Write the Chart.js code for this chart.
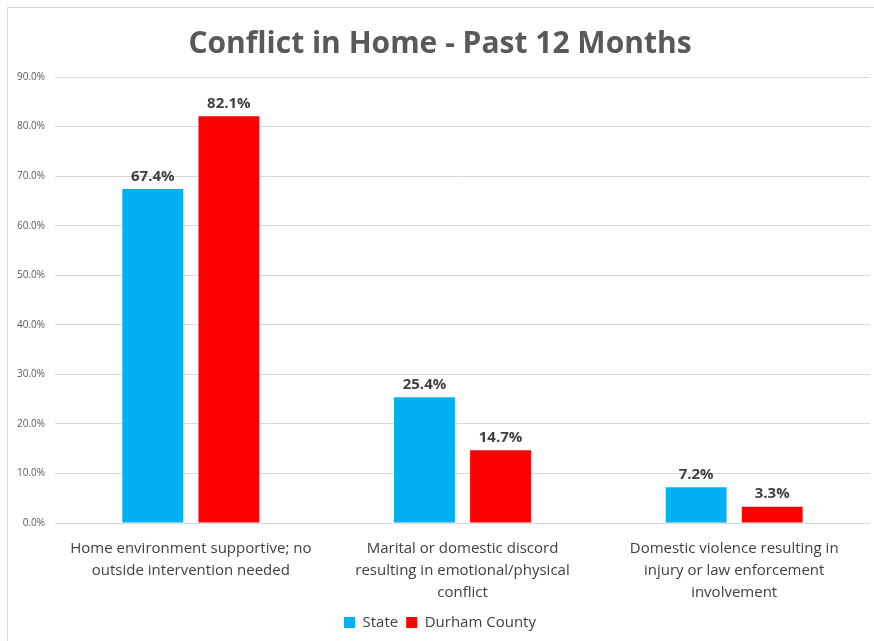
<!DOCTYPE html>
<html>
<head>
<meta charset="utf-8">
<script src="https://cdn.jsdelivr.net/npm/chart.js@4.4.1/dist/chart.umd.min.js"></script>
<style>
  html, body { margin: 0; padding: 0; background: #fff; }
  #wrap { position: relative; width: 874px; height: 641px; }
  #frame { position: absolute; left: 7px; top: 7px; width: 880px; height: 660px; border: 1px solid #d9d9d9; box-sizing: border-box; }
  canvas { position: absolute; left: 0; top: 0; }
</style>
</head>
<body>
<div id="wrap">
  <div id="frame"></div>
  <canvas id="chart" width="874" height="641"></canvas>
</div>
<script>
const categories = [
    ['Home environment supportive; no', 'outside intervention needed'],
    ['Marital or domestic discord', 'resulting in emotional/physical', 'conflict'],
    ['Domestic violence resulting in', 'injury or law enforcement', 'involvement']
];
const stateValues = [67.4, 25.4, 7.2];
const durhamValues = [82.1, 14.7, 3.3];
const seriesNames = ['State', 'Durham County'];
const yTicks = [0, 10, 20, 30, 40, 50, 60, 70, 80, 90];

const FONT = "'Open Sans', sans-serif";

// draws the value above every bar
const valueLabels = {
    id: 'valueLabels',
    afterDatasetsDraw(chart) {
        const ctx = chart.ctx;
        ctx.save();
        ctx.font = 'bold 15px ' + FONT;
        ctx.fillStyle = '#404040';
        ctx.textAlign = 'center';
        ctx.textBaseline = 'bottom';
        chart.data.datasets.forEach(function (ds, i) {
            chart.getDatasetMeta(i).data.forEach(function (bar, j) {
                ctx.fillText(ds.data[j].toFixed(1) + '%', bar.x, bar.y - 5);
            });
        });
        ctx.restore();
    }
};

new Chart(document.getElementById('chart'), {
    type: 'bar',
    data: {
        labels: categories,
        datasets: [{
            label: seriesNames[0],
            data: stateValues,
            backgroundColor: '#00B0F0'
        }, {
            label: seriesNames[1],
            data: durhamValues,
            backgroundColor: '#FF0000'
        }]
    },
    options: {
        responsive: false,
        animation: false,
        devicePixelRatio: 1,
        layout: { padding: { left: 10, right: 4, top: 26, bottom: 1 } },
        datasets: { bar: { categoryPercentage: 0.56, barPercentage: 0.8 } },
        plugins: {
            title: {
                display: true,
                text: 'Conflict in Home - Past 12 Months',
                color: '#595959',
                font: { family: FONT, size: 30, weight: 'bold' },
                padding: { top: 0, bottom: 15 }
            },
            legend: {
                position: 'bottom',
                labels: {
                    color: '#404040',
                    font: { family: FONT, size: 15 },
                    boxWidth: 11,
                    boxHeight: 11,
                    padding: 8
                }
            },
            tooltip: { enabled: false }
        },
        scales: {
            x: {
                grid: { display: false },
                border: { display: false },
                afterFit: function (scale) { scale.height = 84; },
                ticks: {
                    color: '#404040',
                    font: { family: FONT, size: 15, lineHeight: 1.45 },
                    maxRotation: 0,
                    autoSkip: false,
                    padding: 7
                }
            },
            y: {
                min: 0,
                max: 90,
                afterBuildTicks: function (scale) {
                    scale.ticks = yTicks.map(v => ({ value: v }));
                },
                afterFit: function (scale) { scale.width = 45; },
                grid: { color: '#d9d9d9', drawTicks: false },
                border: { display: false },
                ticks: {
                    color: '#595959',
                    font: { family: FONT, size: 10 },
                    padding: 10,
                    callback: v => v.toFixed(1) + '%'
                }
            }
        }
    },
    plugins: [valueLabels]
});
</script>
</body>
</html>
